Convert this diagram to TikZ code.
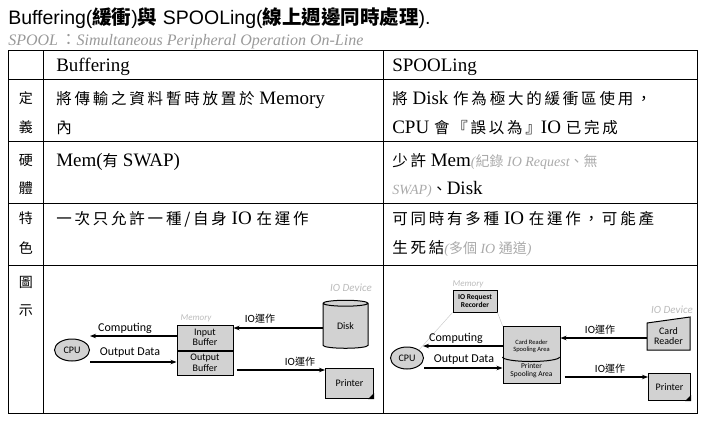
\documentclass[tikz,border=0pt]{standalone}
\usepackage{fontspec}
\setmainfont{Liberation Serif}
\newfontfamily\cjk{Noto Sans CJK TC}
\newfontfamily\cjkw{Noto Sans CJK TC}[LetterSpace=18]
\newfontfamily\hei{Liberation Sans}
\newfontfamily\carl{Carlito}
\usetikzlibrary{shapes.geometric, arrows.meta}
\definecolor{boxgray}{RGB}{210,210,210}
\definecolor{lbl}{RGB}{170,170,170}
\newcommand{\zh}[1]{{\cjkw\fontsize{15.5}{15.5}\selectfont #1}}
\newcommand{\gy}[1]{{\color{lbl}\itshape\fontsize{14}{14}\selectfont #1}}
\begin{document}
\begin{tikzpicture}[x=1pt, y=-1pt, >={Stealth[length=6pt]}, line width=0.6pt,
  tx/.style={anchor=base west, inner sep=0pt, font=\fontsize{19}{19}\selectfont},
  side/.style={anchor=center, inner sep=0pt, font=\cjk\fontsize{14}{14}\selectfont},
  note/.style={font=\fontsize{16}{16}\selectfont\itshape, text=lbl!90!black},
  dcap/.style={inner sep=0pt, font=\carl\itshape\fontsize{9}{9}\selectfont, text=lbl!80},
  lab/.style={inner sep=0pt, font=\carl\fontsize{12}{12}\selectfont},
  ioc/.style={inner sep=0pt, font=\carl\fontsize{11}{11}\selectfont},
  box/.style={draw, line width=1pt, fill=boxgray, align=center, inner sep=0pt,
              font=\carl\fontsize{10}{10.5}\selectfont},
  flow/.style={->, line width=1.4pt},
  link/.style={draw=lbl!60, line width=0.5pt}]
\useasboundingbox (0,0) rectangle (704,423);
% title
\node[inner sep=0pt, anchor=base west, font=\hei\fontsize{19.5}{19.5}\selectfont] (title) at (8,24)
  {Buffering({\cjk\bfseries 緩衝}){\cjk\bfseries 與} SPOOLing({\cjk\bfseries 線上週邊同時處理}).};
\node[inner sep=0pt, anchor=base west, note] (sub) at (8,45)
  {SPOOL\,{\cjk\upshape：}Simultaneous Peripheral Operation On-Line};
% table grid
\draw (8,50) rectangle (697,413);
\foreach \y in {79,141,203,265} \draw (8,\y) -- (697,\y);
\draw (43,50) -- (43,413);
\draw (383,50) -- (383,413);
% header
\node[tx] (h1) at (56,71) {Buffering};
\node[tx] (h2) at (392,71) {SPOOLing};
% left labels
\node[side] (d1) at (26,98) {定};  \node[side] (d2) at (26,127) {義};
\node[side] (g1) at (26,160) {硬};  \node[side] (g2) at (26,188) {體};
\node[side] (t1) at (26,218) {特};  \node[side] (t2) at (26,248) {色};
\node[side] (p1) at (26,282) {圖};  \node[side] (p2) at (26,311) {示};
% cells
\node[tx] (c1) at (56,104) {\zh{將傳輸之資料暫時放置於} Memory};
\node[tx] (c2) at (56,133) {\zh{內}};
\node[tx] (c3) at (392,104) {\zh{將} Disk \zh{作為極大的緩衝區使用，}};
\node[tx] (c4) at (392,133) {CPU \zh{會『誤以為』}IO \zh{已完成}};
\node[tx] (c5) at (56,166) {Mem(\zh{有} SWAP)};
\node[tx] (c6) at (392,166) {\zh{少許} Mem\gy{({\cjk 紀錄} IO Request{\cjk 、無}}};
\node[tx] (c7) at (392,194) {\gy{SWAP)}{\cjk\fontsize{15}{15}\selectfont 、}Disk};
\node[tx] (c8) at (56,224) {\zh{一次只允許一種/自身} IO \zh{在運作}};
\node[tx] (c9) at (392,224) {\zh{可同時有多種} IO \zh{在運作，可能產}};
\node[tx] (c10) at (392,253) {\zh{生死結}\gy{({\cjk 多個} IO {\cjk 通道})}};
% ---------- Buffering diagram
\node[draw, line width=1pt, fill=boxgray, ellipse, minimum width=35pt, minimum height=22pt,
      inner sep=0pt, font=\carl\fontsize{10}{10}\selectfont] (cpuA) at (72,350) {CPU};
\node[box, minimum width=56pt, minimum height=25pt] (inb) at (205,337.5) {Input\\Buffer};
\node[box, minimum width=56pt, minimum height=24pt] (outb) at (205,363) {Output\\Buffer};
\node[dcap] (memA) at (196,318) {Memory};
\node[draw, line width=1pt, fill=boxgray, cylinder, shape border rotate=90, aspect=0.35,
      minimum width=45pt, minimum height=48pt, inner sep=0pt,
      font=\carl\fontsize{10}{10}\selectfont] (disk) at (345.5,326) {Disk};
\node[dcap, font=\carl\itshape\fontsize{11}{11}\selectfont] (devA) at (351,288) {IO Device};
\node[box, minimum width=48pt, minimum height=30pt, anchor=north west] (prA) at (325,368) {Printer};
\fill (prA.south east) -- ++(-6,0) -- ++(6,-6) -- cycle;
\draw[flow] (disk.west |- 0,328) -- (inb.east |- 0,328);
\node[ioc] (ioA1) at (260,319) {IO{\cjk\fontsize{10}{10}\selectfont 運作}};
\draw[flow] (inb.west |- 0,336) -- (90,336) coordinate (cA);
\node[lab] (compA) at (125,328) {Computing};
\draw[flow] (cpuA.east |- 0,362) -- (outb.west |- 0,362);
\node[lab] (outA) at (130,353) {Output Data};
\draw[flow] ([xshift=3pt]outb.east |- 0,370) -- (prA.west |- 0,370);
\node[ioc] (ioA2) at (300,362) {IO{\cjk\fontsize{10}{10}\selectfont 運作}};
% ---------- SPOOLing diagram
\node[draw, line width=1pt, fill=boxgray, ellipse, minimum width=33pt, minimum height=22pt,
      inner sep=0pt, font=\carl\fontsize{10}{10}\selectfont] (cpuB) at (407,358) {CPU};
\node[box, minimum width=44pt, minimum height=22pt, font=\carl\bfseries\fontsize{7.5}{8}\selectfont] (rec) at (475,301) {IO Request\\Recorder};
\node[dcap] (memB) at (468,284) {Memory};
\node[draw, line width=1pt, fill=boxgray, cylinder, shape border rotate=90, aspect=0.3,
      minimum width=57pt, minimum height=57pt, inner sep=0pt] (spool) at (531.5,355) {};
\draw[line width=1pt] (spool.west |- 0,357) arc[start angle=180, end angle=360, x radius=28.5pt, y radius=4.5pt];
\node[align=center, inner sep=0pt, font=\carl\fontsize{6.5}{7}\selectfont] (cra) at (531.5,346) {Card Reader\\Spooling Area};
\node[align=center, inner sep=0pt, font=\carl\fontsize{7.5}{8}\selectfont] (psa) at (531.5,371) {Printer\\Spooling Area};
\node[dcap, font=\carl\itshape\fontsize{11}{11}\selectfont] (devB) at (672,310) {IO Device};
\coordinate (crd) at (668.5,334);
\draw[line width=1pt, fill=boxgray] (647,323) -- (690,317) -- (690,350) -- (647,350) -- cycle;
\node[align=center, inner sep=0pt, font=\carl\fontsize{10}{10.5}\selectfont] (crt) at (668.5,336) {Card\\Reader};
\node[box, minimum width=42pt, minimum height=27pt, anchor=north west] (prB) at (648,373) {Printer};
\fill (prB.south east) -- ++(-6,0) -- ++(6,-6) -- cycle;
\draw[link] (rec.south west) -- (cpuB.north east);
\draw[link] (rec.south east) -- (spool.north west);
\draw[flow] (647,338) -- (spool.east |- 0,338);
\node[ioc] (ioB1) at (600,330) {IO{\cjk\fontsize{10}{10}\selectfont 運作}};
\draw[flow] (spool.west |- 0,346) -- (423,346);
\node[lab] (compB) at (456,338) {Computing};
\draw[flow] (cpuB.east |- 0,368) -- (spool.west |- 0,368);
\node[lab] (outB) at (464,360) {Output Data};
\draw[flow] ([xshift=4pt]spool.east |- 0,377) -- (prB.west |- 0,377);
\node[ioc] (ioB2) at (610,369) {IO{\cjk\fontsize{10}{10}\selectfont 運作}};
\end{tikzpicture}
\end{document}
